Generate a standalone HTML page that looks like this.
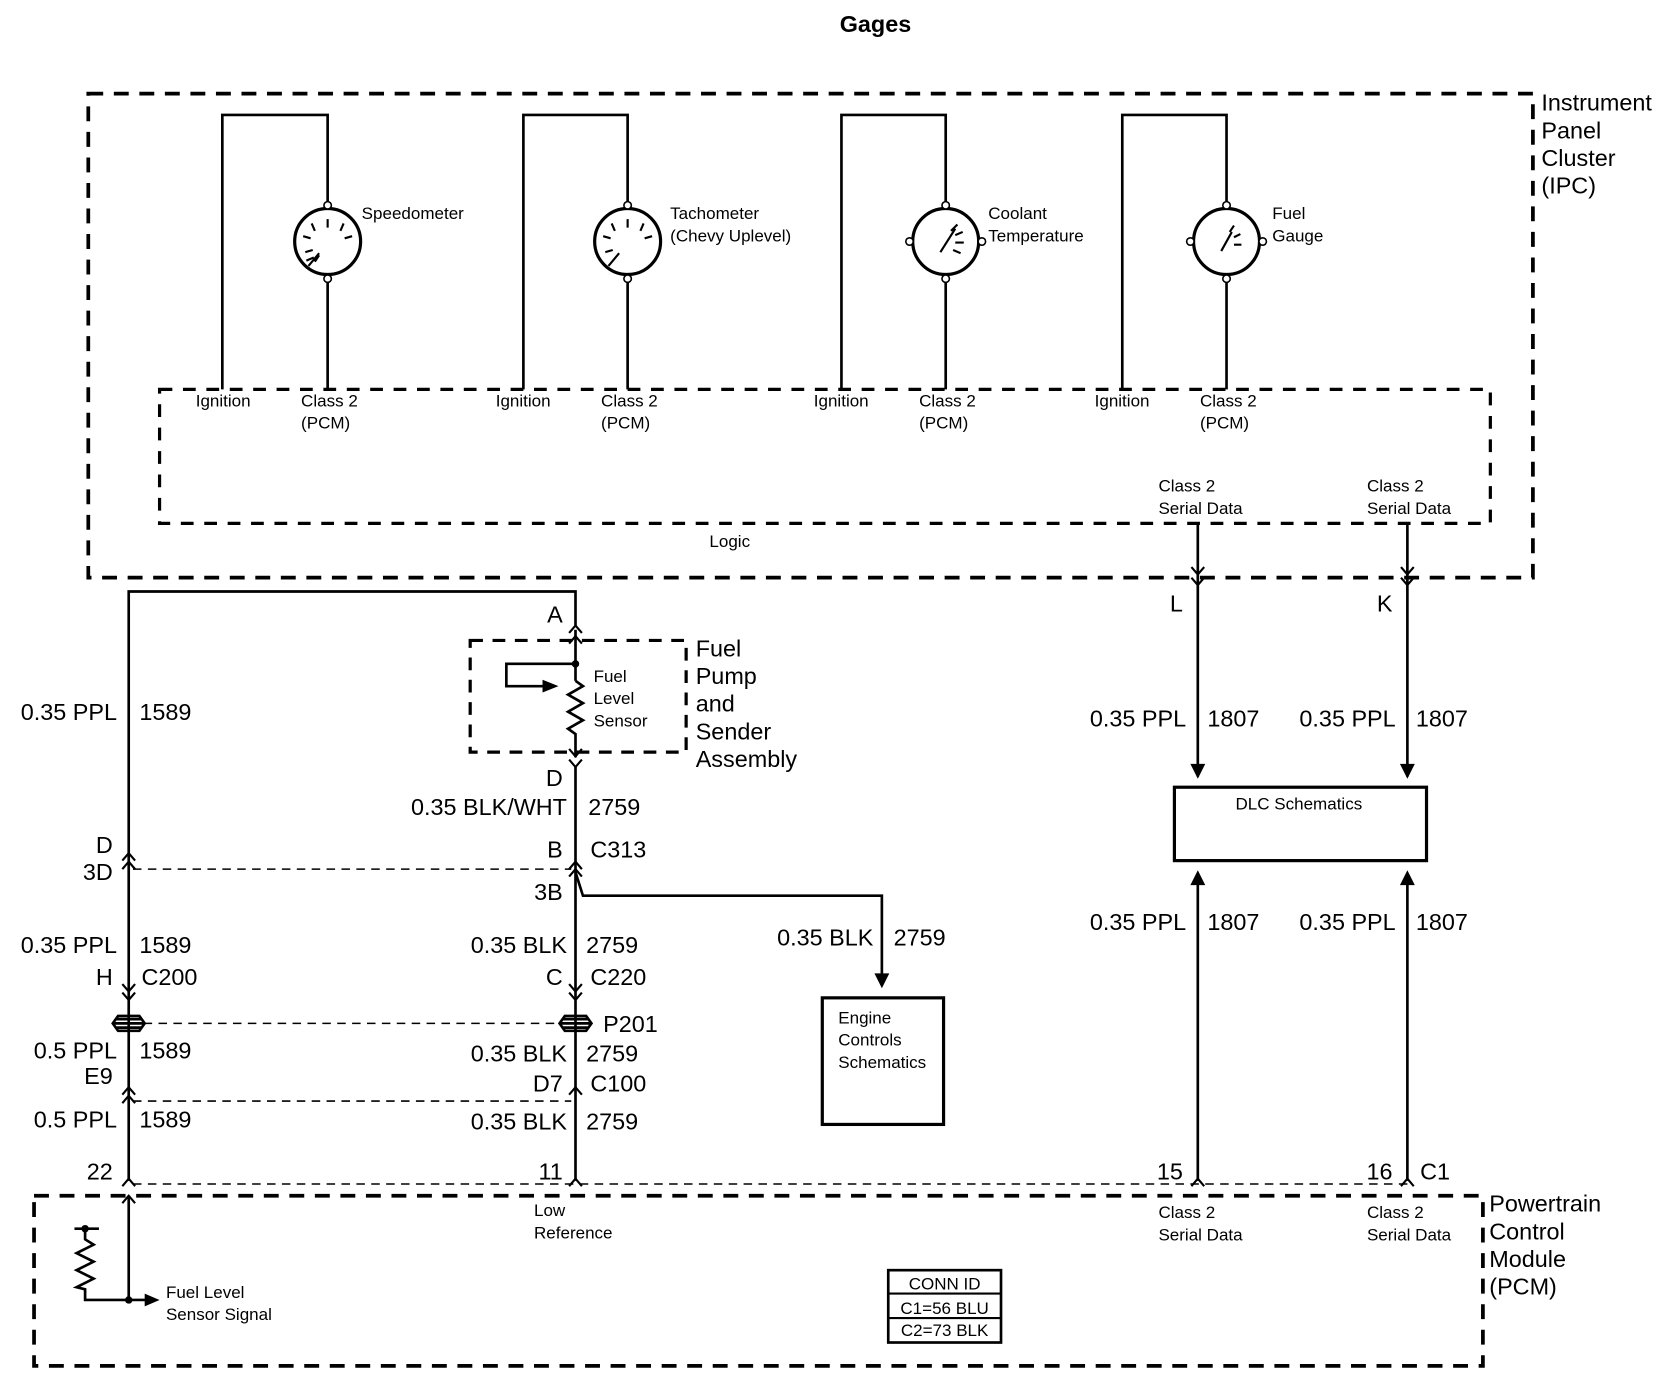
<!DOCTYPE html>
<html><head><style>
html,body{margin:0;padding:0;background:#fff}
svg{display:block}
text{font-family:"Liberation Sans",Arial,sans-serif;fill:#000}
.s{font-size:16px}
.b{font-size:22px}
</style></head><body>
<svg width="1668" height="1392" viewBox="0 0 1568 1308.5" xmlns="http://www.w3.org/2000/svg">
<defs>
<g id="chev"><polyline points="-6,7 0,0 6,7" fill="none" stroke="#000" stroke-width="2"/></g>
<g id="chevd"><polyline points="-6,-7 0,0 6,-7" fill="none" stroke="#000" stroke-width="2"/></g>
</defs>
<g fill="none" stroke="#000">
<rect x="83" y="88" width="1358" height="455" stroke-width="3.5" stroke-dasharray="14,10"/>
<rect x="150" y="366" width="1251" height="126" stroke-width="3" stroke-dasharray="12,10"/>
<rect x="32" y="1124" width="1362" height="160" stroke-width="3.5" stroke-dasharray="14,10"/>
<rect x="442" y="602" width="203" height="105" stroke-width="3" stroke-dasharray="12,9"/>
<g stroke-width="2.5">
<polyline points="209,366 209,108 308,108 308,191"/><line x1="308" y1="265" x2="308" y2="366"/>
<polyline points="492,366 492,108 590,108 590,191"/><line x1="590" y1="265" x2="590" y2="366"/>
<polyline points="791,366 791,108 889,108 889,191"/><line x1="889" y1="265" x2="889" y2="366"/>
<polyline points="1055,366 1055,108 1153,108 1153,191"/><line x1="1153" y1="265" x2="1153" y2="366"/>
<circle cx="308" cy="227" r="31" stroke-width="3"/>
<circle cx="590" cy="227" r="31" stroke-width="3"/>
<circle cx="889" cy="227" r="31" stroke-width="3"/>
<circle cx="1153" cy="227" r="31" stroke-width="3"/>
</g>
<g stroke-width="1.5" fill="#fff">
<circle cx="308" cy="193" r="3.5"/><circle cx="308" cy="262" r="3.5"/>
<circle cx="590" cy="193" r="3.5"/><circle cx="590" cy="262" r="3.5"/>
<circle cx="889" cy="193" r="3.5"/><circle cx="889" cy="262" r="3.5"/>
<circle cx="855" cy="227" r="3.5"/><circle cx="923" cy="227" r="3.5"/>
<circle cx="1153" cy="193" r="3.5"/><circle cx="1153" cy="262" r="3.5"/>
<circle cx="1119" cy="227" r="3.5"/><circle cx="1187" cy="227" r="3.5"/>
</g>
<g stroke-width="2">
<path d="M308,206v8M293,210l3,7M323,210l-3,7M285,222l7,2M331,222l-7,2M287,237l7,-2M288,245l7,-3M300,238l-10,12M300,240l-4,6"/>
<path d="M590,206v8M575,210l3,7M605,210l-3,7M567,222l7,2M613,222l-7,2M569,237l7,-2M582,238l-10,12"/>
<path d="M900,211l-6,6M905,218l-7,3M906,228h-8M903,238l-7,-3M898,215l-14,22"/>
<path d="M1160,212l-4,6M1166,220l-6,3M1167,230h-7M1158,218l-10,18"/>
</g>
<g stroke-width="2.5">
<line x1="1126" y1="492" x2="1126" y2="730"/><line x1="1323" y1="492" x2="1323" y2="730"/>
<rect x="1104" y="740" width="237" height="69" stroke-width="3"/>
<line x1="1126" y1="826" x2="1126" y2="1110"/><line x1="1323" y1="826" x2="1323" y2="1110"/>
<polyline points="121,1110 121,556 541,556 541,588"/>
<line x1="121" y1="1124" x2="121" y2="1222"/>
<line x1="541" y1="592" x2="541" y2="640"/>
<polyline points="541,640 548,645 534,653 548,661 534,669 548,677 534,685 541,690 541,712"/>
<polyline points="541,624 476,624 476,645 514,645"/>
<line x1="541" y1="720" x2="541" y2="1110"/>
<polyline points="541,820 548,842 829,842 829,918"/>
<rect x="773" y="938" width="114" height="119" stroke-width="3"/>
<polyline points="70,1155 93,1155"/>
<polyline points="80,1155 80,1165 88,1170 72,1178 88,1186 72,1194 88,1202 72,1210 80,1212 80,1222 121,1222"/>
<line x1="121" y1="1222" x2="138" y2="1222"/>
<rect x="835" y="1194" width="106" height="68" stroke-width="2.5"/>
<line x1="835" y1="1216" x2="941" y2="1216" stroke-width="2"/>
<line x1="835" y1="1239" x2="941" y2="1239" stroke-width="2"/>
</g>
<g stroke-width="1.5" stroke-dasharray="8,6">
<line x1="125" y1="817" x2="537" y2="817"/>
<line x1="135" y1="962" x2="527" y2="962"/>
<line x1="125" y1="1035" x2="537" y2="1035"/>
<line x1="125" y1="1113" x2="1323" y2="1113"/>
</g>
<g stroke-width="2.5">
<path d="M106,962h30M109,958h24M109,966h24M106,962l5,-7h20l5,7l-5,7h-20z"/>
<path d="M526,962h30M529,958h24M529,966h24M526,962l5,-7h20l5,7l-5,7h-20z"/>
</g>
</g>
<use href="#chevd" x="1126" y="540"/><use href="#chevd" x="1126" y="550"/>
<use href="#chevd" x="1323" y="540"/><use href="#chevd" x="1323" y="550"/>
<use href="#chev" x="541" y="588"/><use href="#chev" x="541" y="598"/>
<use href="#chevd" x="541" y="711"/><use href="#chevd" x="541" y="721"/>
<use href="#chev" x="121" y="802"/><use href="#chev" x="121" y="810"/>
<use href="#chev" x="541" y="810"/><use href="#chev" x="541" y="817"/>
<use href="#chevd" x="121" y="932"/><use href="#chevd" x="121" y="940"/>
<use href="#chevd" x="541" y="932"/><use href="#chevd" x="541" y="940"/>
<use href="#chev" x="121" y="1022"/><use href="#chev" x="121" y="1030"/>
<use href="#chev" x="541" y="1022"/>
<use href="#chev" x="121" y="1108"/><use href="#chev" x="121" y="1124"/>
<use href="#chev" x="541" y="1108"/><use href="#chev" x="1126" y="1108"/><use href="#chev" x="1323" y="1108"/>
<g fill="#000">
<polygon points="1119,718 1133,718 1126,732"/>
<polygon points="1316,718 1330,718 1323,732"/>
<polygon points="1119,832 1133,832 1126,818"/>
<polygon points="1316,832 1330,832 1323,818"/>
<polygon points="822,915 836,915 829,929"/>
<polygon points="510,639 510,651 525,645"/>
<polygon points="136,1216 136,1228 150,1222"/>
<circle cx="541" cy="624" r="3.5"/><circle cx="80" cy="1155" r="3.5"/><circle cx="121" cy="1222" r="3.5"/>
</g>
<text x="823" y="30" text-anchor="middle" style="font-size:22px;font-weight:bold">Gages</text>
<g class="b">
<text x="1449" y="104">Instrument</text><text x="1449" y="130">Panel</text><text x="1449" y="156">Cluster</text><text x="1449" y="182">(IPC)</text>
<text x="1400" y="1139">Powertrain</text><text x="1400" y="1165">Control</text><text x="1400" y="1191">Module</text><text x="1400" y="1217">(PCM)</text>
<text x="654" y="617">Fuel</text><text x="654" y="643">Pump</text><text x="654" y="669">and</text><text x="654" y="695">Sender</text><text x="654" y="721">Assembly</text>
<text x="1112" y="575" text-anchor="end">L</text><text x="1309" y="575" text-anchor="end">K</text>
<text x="1115" y="683" text-anchor="end">0.35 PPL</text><text x="1135" y="683">1807</text>
<text x="1312" y="683" text-anchor="end">0.35 PPL</text><text x="1331" y="683">1807</text>
<text x="1115" y="874" text-anchor="end">0.35 PPL</text><text x="1135" y="874">1807</text>
<text x="1312" y="874" text-anchor="end">0.35 PPL</text><text x="1331" y="874">1807</text>
<text x="1112" y="1109" text-anchor="end">15</text><text x="1309" y="1109" text-anchor="end">16</text><text x="1335" y="1109">C1</text>
<text x="529" y="585" text-anchor="end">A</text>
<text x="529" y="739" text-anchor="end">D</text>
<text x="533" y="766" text-anchor="end">0.35 BLK/WHT</text><text x="553" y="766">2759</text>
<text x="529" y="806" text-anchor="end">B</text><text x="555" y="806">C313</text>
<text x="529" y="846" text-anchor="end">3B</text>
<text x="106" y="802" text-anchor="end">D</text><text x="106" y="827" text-anchor="end">3D</text>
<text x="110" y="677" text-anchor="end">0.35 PPL</text><text x="131" y="677">1589</text>
<text x="110" y="896" text-anchor="end">0.35 PPL</text><text x="131" y="896">1589</text>
<text x="106" y="926" text-anchor="end">H</text><text x="133" y="926">C200</text>
<text x="533" y="896" text-anchor="end">0.35 BLK</text><text x="551" y="896">2759</text>
<text x="529" y="926" text-anchor="end">C</text><text x="555" y="926">C220</text>
<text x="821" y="889" text-anchor="end">0.35 BLK</text><text x="840" y="889">2759</text>
<text x="567" y="970">P201</text>
<text x="110" y="995" text-anchor="end">0.5 PPL</text><text x="131" y="995">1589</text>
<text x="106" y="1019" text-anchor="end">E9</text>
<text x="533" y="998" text-anchor="end">0.35 BLK</text><text x="551" y="998">2759</text>
<text x="529" y="1026" text-anchor="end">D7</text><text x="555" y="1026">C100</text>
<text x="110" y="1060" text-anchor="end">0.5 PPL</text><text x="131" y="1060">1589</text>
<text x="533" y="1062" text-anchor="end">0.35 BLK</text><text x="551" y="1062">2759</text>
<text x="106" y="1109" text-anchor="end">22</text><text x="529" y="1109" text-anchor="end">11</text>
</g>
<g class="s">
<text x="340" y="206">Speedometer</text>
<text x="630" y="206">Tachometer</text><text x="630" y="227">(Chevy Uplevel)</text>
<text x="929" y="206">Coolant</text><text x="929" y="227">Temperature</text>
<text x="1196" y="206">Fuel</text><text x="1196" y="227">Gauge</text>
<text x="184" y="382">Ignition</text><text x="283" y="382">Class 2</text><text x="283" y="403">(PCM)</text>
<text x="466" y="382">Ignition</text><text x="565" y="382">Class 2</text><text x="565" y="403">(PCM)</text>
<text x="765" y="382">Ignition</text><text x="864" y="382">Class 2</text><text x="864" y="403">(PCM)</text>
<text x="1029" y="382">Ignition</text><text x="1128" y="382">Class 2</text><text x="1128" y="403">(PCM)</text>
<text x="1089" y="462">Class 2</text><text x="1089" y="483">Serial Data</text>
<text x="1285" y="462">Class 2</text><text x="1285" y="483">Serial Data</text>
<text x="686" y="514" text-anchor="middle">Logic</text>
<text x="1221" y="761" text-anchor="middle">DLC Schematics</text>
<text x="558" y="641">Fuel</text><text x="558" y="662">Level</text><text x="558" y="683">Sensor</text>
<text x="788" y="962">Engine</text><text x="788" y="983">Controls</text><text x="788" y="1004">Schematics</text>
<text x="502" y="1143">Low</text><text x="502" y="1164">Reference</text>
<text x="1089" y="1145">Class 2</text><text x="1089" y="1166">Serial Data</text>
<text x="1285" y="1145">Class 2</text><text x="1285" y="1166">Serial Data</text>
<text x="156" y="1220">Fuel Level</text><text x="156" y="1241">Sensor Signal</text>
<text x="888" y="1212" text-anchor="middle">CONN ID</text>
<text x="888" y="1235" text-anchor="middle">C1=56 BLU</text>
<text x="888" y="1256" text-anchor="middle">C2=73 BLK</text>
</g>
</svg>
</body></html>
